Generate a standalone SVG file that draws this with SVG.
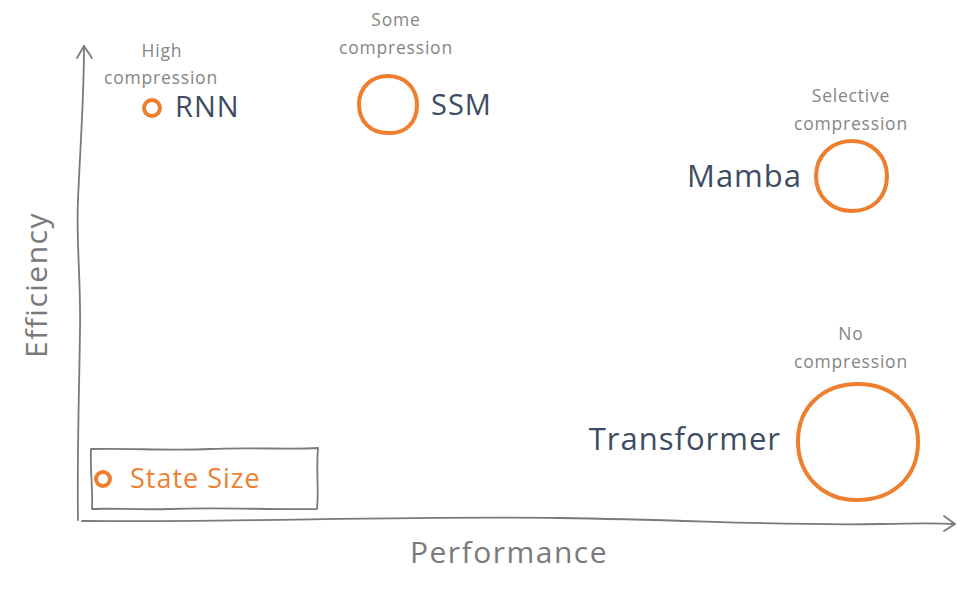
<svg xmlns="http://www.w3.org/2000/svg" width="968" height="600" viewBox="0 0 968 600">
<style>
.ax{fill:none;stroke:#7a7a7a;stroke-width:1.8;stroke-linecap:round;stroke-linejoin:round}
.st{fill:none;stroke:#ee7f2f;stroke-width:4}
.lbl{font-family:"Open Sans","Noto Sans",sans-serif;fill:#3e4c63;font-size:29px;letter-spacing:1px}
.sub{font-family:"Open Sans","Noto Sans",sans-serif;fill:#858585;font-size:17.5px;text-anchor:middle;letter-spacing:0.8px}
.axl{font-family:"Open Sans","Noto Sans",sans-serif;fill:#7a7a7a;font-size:30px;text-anchor:middle;letter-spacing:1.5px}
</style>
<rect width="968" height="600" fill="#ffffff"/>
<g id="connectors">
<path class="ax" d="M78,520 C77,460 79,400 80,330 C81,280 76,240 78,200 C80,150 84,100 84,46"/>
<path class="ax" d="M77,58 L84,46 L92,58"/>
<path class="ax" d="M82,521 C250,522 400,516 560,518 C700,520 780,526 880,524 C920,523 940,523 955,524"/>
<path class="ax" d="M944,516 L955,524 L944,531"/>
</g>
<g id="axis-labels">
<text class="axl" transform="translate(47,285) rotate(-90)">Efficiency</text>
<text class="axl" x="509" y="563">Performance</text>
</g>
<g id="rnn">
<circle class="st" cx="152" cy="108" r="8"/>
<text class="lbl" x="175" y="117">RNN</text>
<text class="sub" x="162" y="57">High</text>
<text class="sub" x="161" y="84">compression</text>
</g>
<g id="ssm">
<path class="st" d="M388,76 C405,76 417,88 417,105 C417,123 405,134 388,133 C370,133 359,121 359,104 C359,88 371,76 388,76 Z"/>
<text class="lbl" x="431" y="115">SSM</text>
<text class="sub" x="396" y="26">Some</text>
<text class="sub" x="396" y="54">compression</text>
</g>
<g id="mamba">
<path class="st" d="M852,141 C872,141 887,156 887,176 C887,197 873,211 852,211 C831,211 816,196 816,176 C816,156 831,141 852,141 Z"/>
<text class="lbl" x="802" y="187" text-anchor="end" style="font-size:31px">Mamba</text>
<text class="sub" x="851" y="102">Selective</text>
<text class="sub" x="851" y="130">compression</text>
</g>
<g id="transformer">
<path class="st" d="M858,384 C893,384 918,408 918,442 C918,477 893,500 857,500 C822,500 798,475 798,441 C798,407 823,384 858,384 Z"/>
<text class="lbl" x="781" y="450" text-anchor="end" style="font-size:31px">Transformer</text>
<text class="sub" x="851" y="340">No</text>
<text class="sub" x="851" y="368">compression</text>
</g>
<g id="legend">
<path class="ax" d="M91,449 C130,448 170,451 210,449 C250,447 290,450 318,448 C316,470 319,490 317,509 C270,510 220,507 170,509 C140,510 110,508 92,509 C93,490 90,470 91,449 Z"/>
<circle class="st" cx="103" cy="479" r="7"/>
<text class="lbl" x="130" y="488" style="fill:#ee7f2f;font-size:27px">State Size</text>
</g>
</svg>
